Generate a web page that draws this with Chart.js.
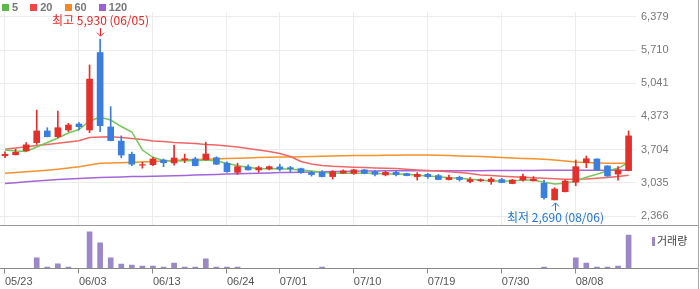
<!DOCTYPE html>
<html>
<head>
<meta charset="utf-8">
<script src="https://cdn.jsdelivr.net/npm/chart.js@4.4.1/dist/chart.umd.min.js"></script>
<style>
body { margin: 0; background: #fff; }
#wrap { position: relative; width: 700px; height: 289px; overflow: hidden; font-family: "Liberation Sans", Arial, "Noto Sans CJK KR", sans-serif; }
#main { position: absolute; left: 0; top: 0; }
#vol { position: absolute; left: 0; top: 227px; }
.legend { position: absolute; left: 2px; top: 1px; font-size: 11px; font-weight: bold; color: #777; }
.legend span.sq { display: inline-block; width: 7px; height: 7px; margin-right: 3px; vertical-align: 0px; }
.legend span.it { margin-right: 9px; }
.line { position: absolute; }
#volLeg { position: absolute; left: 652px; top: 232px; font-size: 11px; color: #444; font-family: "Noto Sans CJK KR", sans-serif; }
#volLeg span { display: inline-block; width: 3px; height: 9px; background: #9c88c8; margin-right: 2px; vertical-align: -1px; }
</style>
</head>
<body>
<div id="wrap">
  <canvas id="main" width="700" height="226"></canvas>
  <canvas id="vol" width="700" height="62"></canvas>
  <div class="legend">
    <span class="sq" style="background:#5cb946"></span><span class="it">5</span>
    <span class="sq" style="background:#ef4646"></span><span class="it">20</span>
    <span class="sq" style="background:#f5891f"></span><span class="it">60</span>
    <span class="sq" style="background:#9e5fcf"></span><span class="it">120</span>
  </div>
  <div class="line" style="left:0;top:225px;width:699px;height:1px;background:#999"></div>
  <div class="line" style="left:0;top:268px;width:699px;height:1px;background:#888"></div>
  <div class="line" style="left:698px;top:0;width:1px;height:289px;background:#aaa"></div>
  <div id="volLeg"><span></span>거래량</div>
</div>
<script>
// trading days shown (2024)
let dates = ['05/23','05/24','05/27','05/28','05/29','05/30','05/31','06/03','06/04','06/05',
  '06/07','06/10','06/11','06/12','06/13','06/14','06/17','06/18','06/19','06/20',
  '06/21','06/24','06/25','06/26','06/27','06/28','07/01','07/02','07/03','07/04',
  '07/05','07/08','07/09','07/10','07/11','07/12','07/15','07/16','07/17','07/18',
  '07/19','07/22','07/23','07/24','07/25','07/26','07/29','07/30','07/31','08/01',
  '08/02','08/05','08/06','08/07','08/08','08/09','08/12','08/13','08/14','08/16'];
let tickDates = ['05/23','06/03','06/13','06/24','07/01','07/10','07/19','07/30','08/08'];
let priceTicks = [2366, 3035, 3704, 4373, 5041, 5710, 6379];

let opens = [3580,3600,3680,3845,4080,3965,4100,4220,4100,5660,
  4160,3875,3610,3390,3400,3495,3435,3495,3515,3500,
  3540,3430,3245,3355,3295,3315,3355,3340,3320,3245,
  3245,3160,3230,3225,3295,3260,3195,3245,3220,3160,
  3205,3180,3100,3145,3060,3075,3060,3100,3020,3090,
  3075,3025,2690,2855,3045,3440,3515,3375,3210,3280];
let highs = [3660,3710,3845,4500,4145,4480,4235,4250,5410,5930,
  4570,3980,3655,3450,3550,3515,3795,3615,3550,3855,
  3560,3460,3430,3395,3370,3375,3410,3365,3330,3265,
  3280,3280,3295,3305,3305,3280,3265,3280,3230,3240,
  3225,3205,3190,3170,3140,3115,3140,3125,3105,3210,
  3160,3090,2935,3090,3495,3575,3520,3380,3360,4080];
let lows = [3540,3595,3670,3810,3960,3945,4065,4100,4045,4065,
  3880,3540,3380,3330,3380,3360,3390,3440,3375,3490,
  3400,3245,3205,3290,3245,3295,3275,3250,3225,3170,
  3155,3110,3225,3205,3215,3175,3175,3172,3175,3090,
  3125,3095,3095,3070,3035,3060,3005,3035,3015,3070,
  3070,2705,2690,2850,2975,3340,3290,3165,3090,3275];
let closes = [3610,3650,3800,4080,3965,4145,4200,4165,5125,4185,
  3885,3595,3410,3400,3515,3440,3535,3520,3380,3615,
  3410,3260,3360,3295,3340,3360,3310,3320,3240,3200,
  3160,3260,3275,3295,3225,3205,3245,3200,3180,3205,
  3160,3100,3140,3100,3100,3095,3110,3040,3090,3160,
  3110,2735,2910,3070,3360,3520,3295,3170,3295,3980];

let ma5 = [3696,3676,3666,3756,3847,3938,4038,4109,4280,4355,
  4300,4169,4059,3696,3549,3480,3474,3480,3480,3494,
  3474,3428,3380,3347,3319,3319,3319,3307,3293,3273,
  3247,3226,3226,3226,3226,3226,3212,3212,3206,3186,
  3172,3158,3138,3125,3105,3091,3071,3071,3071,3091,
  3091,3045,3011,3025,3071,3146,3206,3279,3327,3440];
let ma20 = [3710,3736,3760,3785,3809,3833,3857,3881,3948,3958,
  3964,3948,3928,3907,3877,3867,3847,3837,3827,3807,
  3797,3777,3756,3726,3696,3666,3625,3565,3464,3414,
  3384,3367,3357,3349,3341,3333,3329,3321,3307,3293,
  3283,3273,3259,3243,3222,3192,3182,3168,3158,3148,
  3138,3128,3116,3106,3106,3112,3126,3140,3162,3186];
let ma60 = [3226,3243,3259,3273,3289,3309,3333,3357,3394,3428,
  3434,3440,3448,3454,3462,3474,3484,3494,3502,3511,
  3517,3523,3529,3535,3543,3549,3553,3557,3561,3565,
  3571,3577,3581,3583,3585,3587,3589,3591,3593,3595,
  3595,3589,3583,3577,3571,3565,3555,3547,3537,3527,
  3519,3511,3494,3474,3454,3442,3434,3428,3428,3428];
let ma120 = [3021,3037,3055,3071,3085,3099,3112,3122,3132,3142,
  3148,3154,3160,3164,3168,3172,3176,3184,3192,3198,
  3204,3210,3216,3222,3228,3234,3241,3245,3249,3253,
  3257,3261,3265,3269,3273,3275,3277,3279,3279,3279,
  3279,3279,3279,3279,3279,3279,3285,3285,3285,3285,
  3285,3290,3290,3290,3290,3290,3290,3290,3290,3290];

let volumes = [0,0,0,107000,13000,47000,13000,0,367000,257000,
  107000,43000,33000,23000,23000,13000,53000,13000,13000,97000,
  13000,13000,13000,0,0,0,0,0,0,0,
  13000,0,0,0,0,0,0,0,0,0,
  0,0,0,0,0,0,0,0,0,0,
  0,13000,0,0,107000,53000,13000,13000,23000,333000];

const UP = '#e3302a', DOWN = '#3a7fe0';
const X_MIN = -0.473, X_MAX = 59.7;
let tickIdx = tickDates.map(d => dates.indexOf(d));

Chart.defaults.font.family = '"Liberation Sans", Arial, sans-serif';

let candleColors = opens.map((o, i) => closes[i] >= o ? UP : DOWN);
let pts = arr => arr.map((v, i) => ({ x: i, y: v }));
let maLine = (arr, color, ord) => ({
  type: 'line', data: pts(arr), borderColor: color, borderWidth: 1.5,
  pointRadius: 0, tension: 0, order: ord
});

// 최고 / 최저 markers
const markers = {
  id: 'markers',
  afterDatasetsDraw(chart) {
    const ctx = chart.ctx, xs = chart.scales.x, ys = chart.scales.y;
    const hi = Math.max(...highs), lo = Math.min(...lows);
    const hiI = highs.indexOf(hi), loI = lows.indexOf(lo);
    ctx.save();
    ctx.font = '12px "Noto Sans CJK KR", sans-serif';
    ctx.textAlign = 'center';
    ctx.textBaseline = 'middle';
    ctx.lineWidth = 1;

    let x = Math.round(xs.getPixelForValue(hiI)) + 0.5;
    let y = ys.getPixelForValue(hi);
    ctx.strokeStyle = ctx.fillStyle = '#e8251f';
    ctx.beginPath();
    ctx.moveTo(x, y - 11); ctx.lineTo(x, y - 3);
    ctx.moveTo(x - 3.5, y - 6.5); ctx.lineTo(x, y - 3); ctx.lineTo(x + 3.5, y - 6.5);
    ctx.stroke();
    ctx.fillText('최고 ' + hi.toLocaleString('en-US') + ' (' + dates[hiI] + ')', x, y - 19);

    x = Math.round(xs.getPixelForValue(loI)) + 0.5;
    y = ys.getPixelForValue(lo);
    ctx.strokeStyle = ctx.fillStyle = '#1f74d6';
    ctx.beginPath();
    ctx.moveTo(x, y + 11); ctx.lineTo(x, y + 3);
    ctx.moveTo(x - 3.5, y + 6.5); ctx.lineTo(x, y + 3); ctx.lineTo(x + 3.5, y + 6.5);
    ctx.stroke();
    ctx.fillText('최저 ' + lo.toLocaleString('en-US') + ' (' + dates[loI] + ')', x, y + 18);
    ctx.restore();
  }
};

new Chart(document.getElementById('main'), {
  data: {
    datasets: [
      maLine(ma120, '#a466d6', 5),
      maLine(ma60, '#f5922a', 4),
      maLine(ma20, '#f06666', 3),
      maLine(ma5, '#76c75a', 2),
      { type: 'bar', data: opens.map((o, i) => ({ x: i, y: [lows[i], highs[i]] })),
        backgroundColor: candleColors, barThickness: 1, grouped: false, order: 1 },
      { type: 'bar', data: opens.map((o, i) => ({ x: i, y: [o, closes[i]] })),
        backgroundColor: candleColors, barThickness: 6, grouped: false, order: 0 }
    ]
  },
  options: {
    responsive: false,
    animation: false,
    layout: { padding: { top: 12, left: 0, right: 0, bottom: 0 } },
    plugins: { legend: { display: false }, tooltip: { enabled: false } },
    scales: {
      x: {
        type: 'linear', min: X_MIN, max: X_MAX, offset: false,
        afterBuildTicks: s => { s.ticks = tickIdx.map(v => ({ value: v })); },
        ticks: { display: false },
        grid: { color: '#ececec', drawTicks: false, offset: false },
        border: { display: false },
        afterFit: s => { s.height = 0; }
      },
      y: {
        position: 'right',
        min: 2164.5, max: 6476.6,
        afterBuildTicks: s => { s.ticks = priceTicks.map(v => ({ value: v })); },
        ticks: { padding: 5, color: '#777', font: { size: 11 }, callback: v => v.toLocaleString('en-US') },
        grid: { color: '#ececec', drawTicks: false },
        border: { display: false },
        afterFit: s => { s.width = 64; s.paddingTop = 0; s.paddingBottom = 0; }
      }
    }
  },
  plugins: [markers]
});

new Chart(document.getElementById('vol'), {
  type: 'bar',
  data: {
    datasets: [{ data: pts(volumes), backgroundColor: '#9c88c8', barThickness: 5 }]
  },
  options: {
    responsive: false,
    animation: false,
    layout: { padding: { top: 0, left: 0, right: 64, bottom: 0 } },
    plugins: { legend: { display: false }, tooltip: { enabled: false } },
    scales: {
      x: {
        type: 'linear', min: X_MIN, max: X_MAX, offset: false,
        afterBuildTicks: s => { s.ticks = tickIdx.map(v => ({ value: v })); },
        ticks: { align: 'start', padding: 2, color: '#555', font: { size: 11 }, autoSkip: false, maxRotation: 0,
                 callback: v => dates[v] },
        grid: { drawOnChartArea: false, color: '#888', tickLength: 5, offset: false },
        border: { display: false },
        afterFit: s => { s.height = 20.5; s.paddingLeft = 0; s.paddingRight = 0; }
      },
      y: { display: false, min: 0, max: 415000 }
    }
  }
});
</script>
</body>
</html>
